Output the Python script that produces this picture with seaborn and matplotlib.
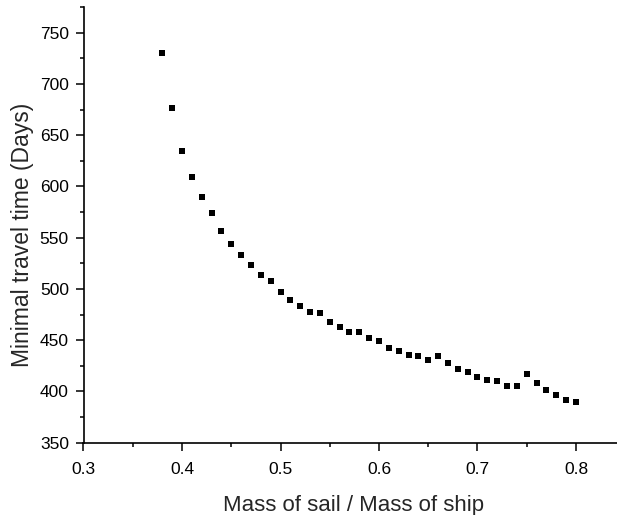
import numpy as np
import pandas as pd
import matplotlib
matplotlib.use("Agg")
import matplotlib.pyplot as plt
import seaborn as sns
from matplotlib.ticker import MultipleLocator

mass_ratio = [0.38, 0.39, 0.40, 0.41, 0.42, 0.43, 0.44, 0.45, 0.46, 0.47,
              0.48, 0.49, 0.50, 0.51, 0.52, 0.53, 0.54, 0.55, 0.56, 0.57,
              0.58, 0.59, 0.60, 0.61, 0.62, 0.63, 0.64, 0.65, 0.66, 0.67,
              0.68, 0.69, 0.70, 0.71, 0.72, 0.73, 0.74, 0.75, 0.76, 0.77,
              0.78, 0.79, 0.80]
travel_days = [730.5, 676.2, 634.9, 608.9, 589.4, 574.4, 556.2, 543.9, 532.8, 523.1,
               513.3, 507.5, 496.7, 488.9, 483.4, 477.8, 476.2, 467.5, 462.9, 458.3,
               457.7, 452.1, 448.9, 442.7, 439.2, 435.9, 434.9, 430.4, 434.9, 427.8,
               422.2, 419.0, 413.8, 411.5, 410.2, 405.6, 405.0, 416.7, 408.5, 401.7,
               396.2, 391.7, 390.0]

x_ticks = [0.3, 0.4, 0.5, 0.6, 0.7, 0.8]
x_tick_labels = ["0.3", "0.4", "0.5", "0.6", "0.7", "0.8"]
x_label = "Mass of sail / Mass of ship"
y_label = "Minimal travel time (Days)"

df = pd.DataFrame({"ratio": mass_ratio, "days": travel_days})

sns.set_style("ticks")
plt.rcParams['font.family'] = ['Liberation Sans', 'DejaVu Sans']

W, H = 617, 515
left_px, bottom_px, top_px = 83.5, 442.7, 7.1
fig = plt.figure(figsize=(W / 100, H / 100), dpi=100)
ax = fig.add_axes([left_px / W, 1 - bottom_px / H, 1 - left_px / W, (bottom_px - top_px) / H])

sns.scatterplot(data=df, x="ratio", y="days", ax=ax, marker="s", color="black",
                s=20, linewidth=0, legend=False)

ax.set_xlim(0.3, 0.3 + (W - left_px) / 985)
ax.set_ylim(350, 775)
ax.set_xticks(x_ticks)
ax.set_xticklabels(x_tick_labels)
ax.xaxis.set_minor_locator(MultipleLocator(0.05))
ax.yaxis.set_major_locator(MultipleLocator(50))
ax.yaxis.set_minor_locator(MultipleLocator(25))

for side in ["top", "right"]:
    ax.spines[side].set_visible(False)
for side in ["left", "bottom"]:
    ax.spines[side].set_linewidth(1.2)
    ax.spines[side].set_color("black")

ax.tick_params(which="major", direction="out", length=6, width=1.1, labelsize=12.5,
               colors="black")
ax.tick_params(axis="x", which="major", pad=8)
ax.tick_params(axis="y", which="major", pad=4.5)
ax.tick_params(which="minor", direction="out", length=3.2, width=1.1, colors="black")

ax.set_xlabel(x_label, fontsize=16)
ax.set_ylabel(y_label, fontsize=16.5)
ax.xaxis.set_label_coords(0.506, -0.1193)
ax.yaxis.set_label_coords(-0.0935, 0.477)

fig.savefig("out.png", dpi=100)
